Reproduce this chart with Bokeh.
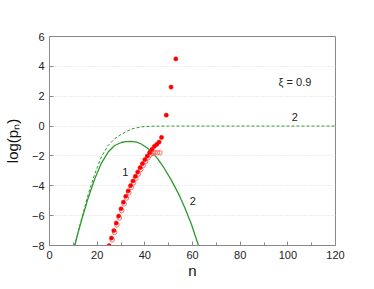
from bokeh.plotting import figure
from bokeh.models import Range1d, Label, FixedTicker
from bokeh.embed import file_html
from bokeh.resources import INLINE

# filled red points
n_fill = [25, 26, 27, 28, 29, 30, 31, 32, 33, 34, 35, 36, 37, 38, 39, 40, 41, 42, 43, 44, 45, 46, 47, 49, 51, 53]
p_fill = [-8.0, -7.5, -7.0, -6.5, -6.03, -5.54, -5.1, -4.7, -4.35, -3.99, -3.68, -3.37, -3.08, -2.79,
          -2.52, -2.25, -2.01, -1.78, -1.56, -1.36, -1.23, -1.07, -0.76, 0.73, 2.61, 4.5]
# open red circles
n_open = [25.3, 26.3, 27.3, 28.3, 29.3, 30.3, 31.3, 32.3, 33.3, 34.3, 35.3, 36.3, 37.3, 38.3, 39.3, 40.3,
          41.3, 42.3, 43.3, 44.3, 45.3, 46.3]
p_open = [-8.1, -7.62, -7.12, -6.62, -6.15, -5.66, -5.22, -4.82, -4.47, -4.11, -3.8, -3.49, -3.2, -2.91,
          -2.64, -2.37, -2.12, -1.93, -1.83, -1.79, -1.78, -1.79]
# curve 1 (solid)
n_c1 = [10.6, 12.0, 13.4, 16.2, 19.0, 21.8, 24.6, 27.3, 30.1, 32.0, 34.3, 36.5, 38.5, 41.3, 43.5, 45.5,
        48.0, 51.0, 54.0, 56.6, 59.5, 62.5]
p_c1 = [-8.0, -7.13, -6.33, -4.83, -3.53, -2.48, -1.74, -1.3, -1.1, -1.04, -1.02, -1.07, -1.2, -1.5,
        -1.83, -2.21, -2.79, -3.59, -4.49, -5.4, -6.56, -8.0]
# curve 2 (dashed)
n_c2 = [10.6, 12.0, 13.4, 16.2, 19.0, 21.8, 24.6, 27.3, 30.1, 34.3, 38.5, 42.7, 50.0, 120.0]
p_c2 = [-8.0, -7.1, -6.25, -4.6, -3.2, -2.05, -1.3, -0.85, -0.55, -0.2, -0.05, -0.01, 0.0, 0.0]

x_ticks = [0, 20, 40, 60, 80, 100, 120]
y_ticks = [-8, -6, -4, -2, 0, 2, 4, 6]

green = "#2e9a2e"
red = "#ff0000"
font = "Liberation Sans"

p = figure(width=366, height=281, output_backend="svg", toolbar_location=None,
           x_range=Range1d(0, 120), y_range=Range1d(-8, 6),
           min_border_left=48, min_border_top=36, min_border_right=31, min_border_bottom=36)
p.outline_line_color = "#888888"
p.outline_line_width = 1
p.background_fill_color = "white"

p.xaxis.ticker = FixedTicker(ticks=x_ticks, minor_ticks=[10, 30, 50, 70, 90, 110])
p.yaxis.ticker = FixedTicker(ticks=y_ticks)
p.xgrid.visible = False
p.ygrid.grid_line_color = "#dddddd"
p.ygrid.grid_line_dash = "1 2"
p.ygrid.ticker = FixedTicker(ticks=[-6, -4, -2, 0, 2, 4])

for ax in (p.xaxis[0], p.yaxis[0]):
    ax.axis_line_color = "#888888"
    ax.major_tick_line_color = "#888888"
    ax.minor_tick_line_color = "#888888"
    ax.major_tick_in = 4
    ax.major_tick_out = 0
    ax.minor_tick_in = 3
    ax.minor_tick_out = 0
    ax.major_label_text_font = font
    ax.major_label_text_font_size = "11px"
    ax.major_label_text_color = "#222222"
    ax.axis_label_text_font = font
    ax.axis_label_text_font_size = "15px"
    ax.axis_label_text_font_style = "normal"
    ax.axis_label_text_color = "#111111"

p.xaxis.axis_label = "n"
p.xaxis.major_label_standoff = 5
p.xaxis.axis_label_standoff = 0
p.yaxis.axis_label = "log(pₙ)"
p.yaxis.major_label_standoff = 5
p.yaxis.axis_label_standoff = 8

p.line(n_c2, p_c2, line_color=green, line_width=1, line_dash="3 2")
p.line(n_c1, p_c1, line_color=green, line_width=1.3)
p.scatter(n_open, p_open, marker="circle", size=4.5, fill_color=None, line_color="#ff6a6a", line_width=1)
p.scatter(n_fill, p_fill, marker="circle", size=4.2, fill_color=red, line_color=red, line_width=0.5)

for (x, y, t) in [(31.8, -3.07, "1"), (60.1, -5.03, "2"), (102.9, 0.64, "2"), (103, 2.97, "ξ = 0.9")]:
    p.add_layout(Label(x=x, y=y, text=t, text_font=font, text_font_size="11px",
                       text_align="center", text_baseline="middle", text_color="#222222"))

open("out.html", "w").write(file_html(p, INLINE))
